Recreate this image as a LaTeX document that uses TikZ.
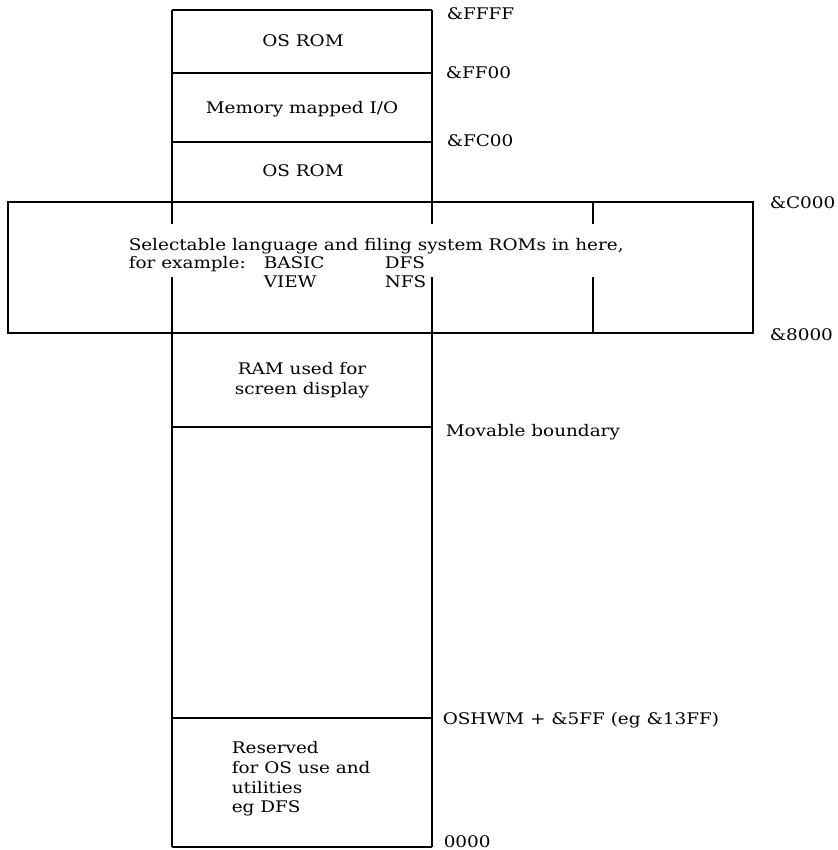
\documentclass[tikz,border=0pt]{standalone}
\usepackage{fontspec}
\setmainfont[FakeStretch=1.15]{DejaVu Serif}
\begin{document}
\begin{tikzpicture}[x=1pt,y=-1pt,line width=1.5pt,
  txt/.style={inner sep=0pt,anchor=base west,font=\fontsize{16}{20}\selectfont},
  ctxt/.style={inner sep=0pt,anchor=base,font=\fontsize{16}{20}\selectfont}]
\useasboundingbox (0,0) rectangle (837,850);
% column boundaries
\coordinate (cL0) at (172,10);  \coordinate (cR0) at (432,10);
\coordinate (cL1) at (172,73);  \coordinate (cR1) at (432,73);
\coordinate (cL2) at (172,142); \coordinate (cR2) at (432,142);
\coordinate (cL5) at (172,427); \coordinate (cR5) at (432,427);
\coordinate (cL6) at (172,718); \coordinate (cR6) at (432,718);
\coordinate (cL7) at (172,847); \coordinate (cR7) at (432,847);
% wide ROM box
\coordinate (wTL) at (8,202);   \coordinate (wBR) at (753,333);
\coordinate (iT) at (593,202);  \coordinate (iB) at (593,333);
\coordinate (mTL) at (120,224); \coordinate (mBR) at (640,277);

\draw (cL0) -- (cL7);
\draw (cR0) -- (cR7);
\draw (cL0) -- (cR0);
\draw (cL1) -- (cR1);
\draw (cL2) -- (cR2);
\draw (cL5) -- (cR5);
\draw (cL6) -- (cR6);
\draw (cL7) -- (cR7);
\draw (wTL) rectangle (wBR);
\draw (iT) -- (iB);
\fill[white] (mTL) rectangle (mBR);

% texts inside column
\node[ctxt] (os1) at (303,47) {OS ROM};
\node[ctxt] (io) at (302,114) {Memory mapped I/O};
\node[ctxt] (os2) at (303,177) {OS ROM};
\node[txt] (sel) at (128,250) {Selectable language and filing system ROMs in here,};
\node[txt] (fex) at (128,268) {for example:};
\node[txt] (basic) at (263,268) {BASIC};
\node[txt] (dfs) at (384,268) {DFS};
\node[txt] (view) at (263,287) {VIEW};
\node[txt] (nfs) at (384,287) {NFS};
\node[ctxt] (ram1) at (302,374) {RAM used for};
\node[ctxt] (ram2) at (302,394) {screen display};
\node[txt] (res1) at (231,753) {Reserved};
\node[txt] (res2) at (231,773) {for OS use and};
\node[txt] (res3) at (231,793) {utilities};
\node[txt] (res4) at (231,812) {eg DFS};

% address labels
\node[txt] (aFFFF) at (446,20) {\&FFFF};
\node[txt] (aFF00) at (445,79) {\&FF00};
\node[txt] (aFC00) at (446,147) {\&FC00};
\node[txt] (aC000) at (769,208) {\&C000};
\node[txt] (a8000) at (769,340) {\&8000};
\node[txt] (mov) at (445,436) {Movable boundary};
\node[txt] (oshwm) at (442,724) {OSHWM + \&5FF (eg \&13FF)};
\node[txt] (a0000) at (443,847) {0000};
\end{tikzpicture}
\end{document}
